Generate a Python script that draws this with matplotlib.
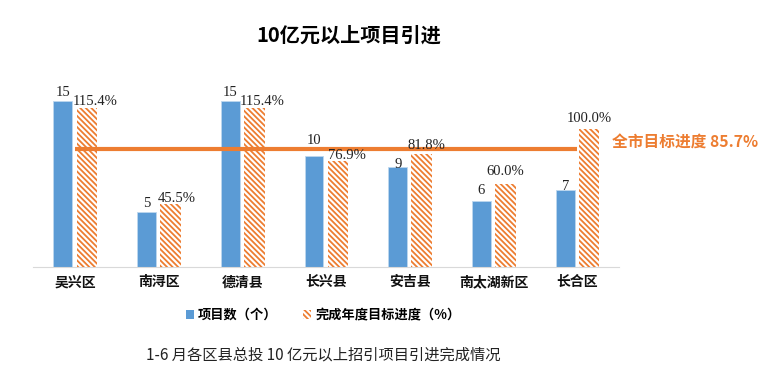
import matplotlib
matplotlib.use("Agg")
import matplotlib.pyplot as plt
from matplotlib.patches import Patch
import numpy as np

categories = ["吴兴区", "南浔区", "德清县", "长兴县", "安吉县", "南太湖新区", "长合区"]
project_counts = [15, 5, 15, 10, 9, 6, 7]
progress_pct = [115.4, 45.5, 115.4, 76.9, 81.8, 60.0, 100.0]
city_target = 85.7

title = "10亿元以上项目引进"
caption = "1-6 月各区县总投 10 亿元以上招引项目引进完成情况"
legend_labels = ["项目数（个）", "完成年度目标进度（%）"]
target_label = "全市目标进度 85.7%"

# label nudges in pixels (style only)
count_label_dy = [2, 2, 2, 9, -4, 4, -3]
pct_label_dx = [8, 6, 8, 9, 5, 0, 0]
pct_label_dy = [0, -1, 0, -1, 2, 6, 4]

BLUE = "#5B9BD5"
ORANGE = "#ED7D31"
CJK = ["Noto Sans CJK SC", "DejaVu Sans"]
SERIF = ["Liberation Serif", "Noto Sans CJK SC"]

plt.rcParams["font.family"] = CJK
plt.rcParams["hatch.linewidth"] = 1.3

fig = plt.figure(figsize=(7.68, 3.9), dpi=100)
W, H = 768, 390
ax_left, ax_right, ax_bottom, ax_top = 33, 619, 267, 85
ax = fig.add_axes([ax_left / W, 1 - ax_bottom / H, (ax_right - ax_left) / W, (ax_bottom - ax_top) / H])
ax2 = ax.twinx()

px_h = ax_bottom - ax_top
ax.set_ylim(0, px_h / 11.07)
ax2.set_ylim(0, px_h / 1.382)
ax.set_xlim(-0.5, len(categories) - 0.5)

x = np.arange(len(categories))
off = 0.143
bw = 0.225
HATCH = "\\" * 6
ax.bar(x - off, project_counts, width=bw, color=BLUE, edgecolor="#BDD7EE", linewidth=0.6, zorder=2)
ax2.bar(x + off, progress_pct, width=bw + 0.02, color="white", edgecolor=ORANGE,
        linewidth=0, hatch=HATCH, zorder=2)

ax2.plot([x[0], x[-1]], [city_target, city_target], color=ORANGE, lw=3, zorder=5,
         solid_capstyle="butt")

pt = 0.72
for xi, v, dy in zip(x, project_counts, count_label_dy):
    ax.annotate(f"{v}", (xi - off, v), xytext=(0, dy * pt), textcoords="offset points",
                ha="center", va="bottom", fontsize=10.5, family=SERIF, color="#222222", zorder=6)
for xi, v, dx, dy in zip(x, progress_pct, pct_label_dx, pct_label_dy):
    ax2.annotate(f"{v:.1f}%", (xi + off, v), xytext=(dx * pt, dy * pt), textcoords="offset points",
                 ha="center", va="bottom", fontsize=10.5, family=SERIF, color="#222222", zorder=6)

for s in ["top", "left", "right"]:
    ax.spines[s].set_visible(False)
    ax2.spines[s].set_visible(False)
ax.spines["bottom"].set_color("#D9D9D9")
ax2.spines["bottom"].set_visible(False)
ax.set_yticks([])
ax2.set_yticks([])
ax.set_xticks(x)
ax.set_xticklabels(categories, fontsize=10, fontweight="bold", color="#111111")
ax.tick_params(axis="x", length=0, pad=6)

fig.text(612 / W, 1 - 143 / H, target_label, color=ORANGE, fontsize=11.3, fontweight="bold",
         ha="left", va="center")
fig.text(349 / W, 1 - 35 / H, title, fontsize=14.5, fontweight="bold", ha="center", va="center",
         color="black")
fig.text(323 / W, 1 - 355 / H, caption, fontsize=11, ha="center", va="center",
         family=["Noto Sans CJK SC"], color="#222222")

handles = [Patch(facecolor=BLUE, edgecolor=BLUE, linewidth=0),
           Patch(facecolor="white", edgecolor=ORANGE, hatch=HATCH, linewidth=0)]
fig.legend(handles, legend_labels, loc="center", bbox_to_anchor=(323 / W, 1 - 315 / H), ncol=2,
           frameon=False, handlelength=0.6, handleheight=0.6, handletextpad=0.3, columnspacing=2,
           prop={"family": CJK, "weight": "bold", "size": 9.5})

fig.savefig("out.png", dpi=100, facecolor="white")
